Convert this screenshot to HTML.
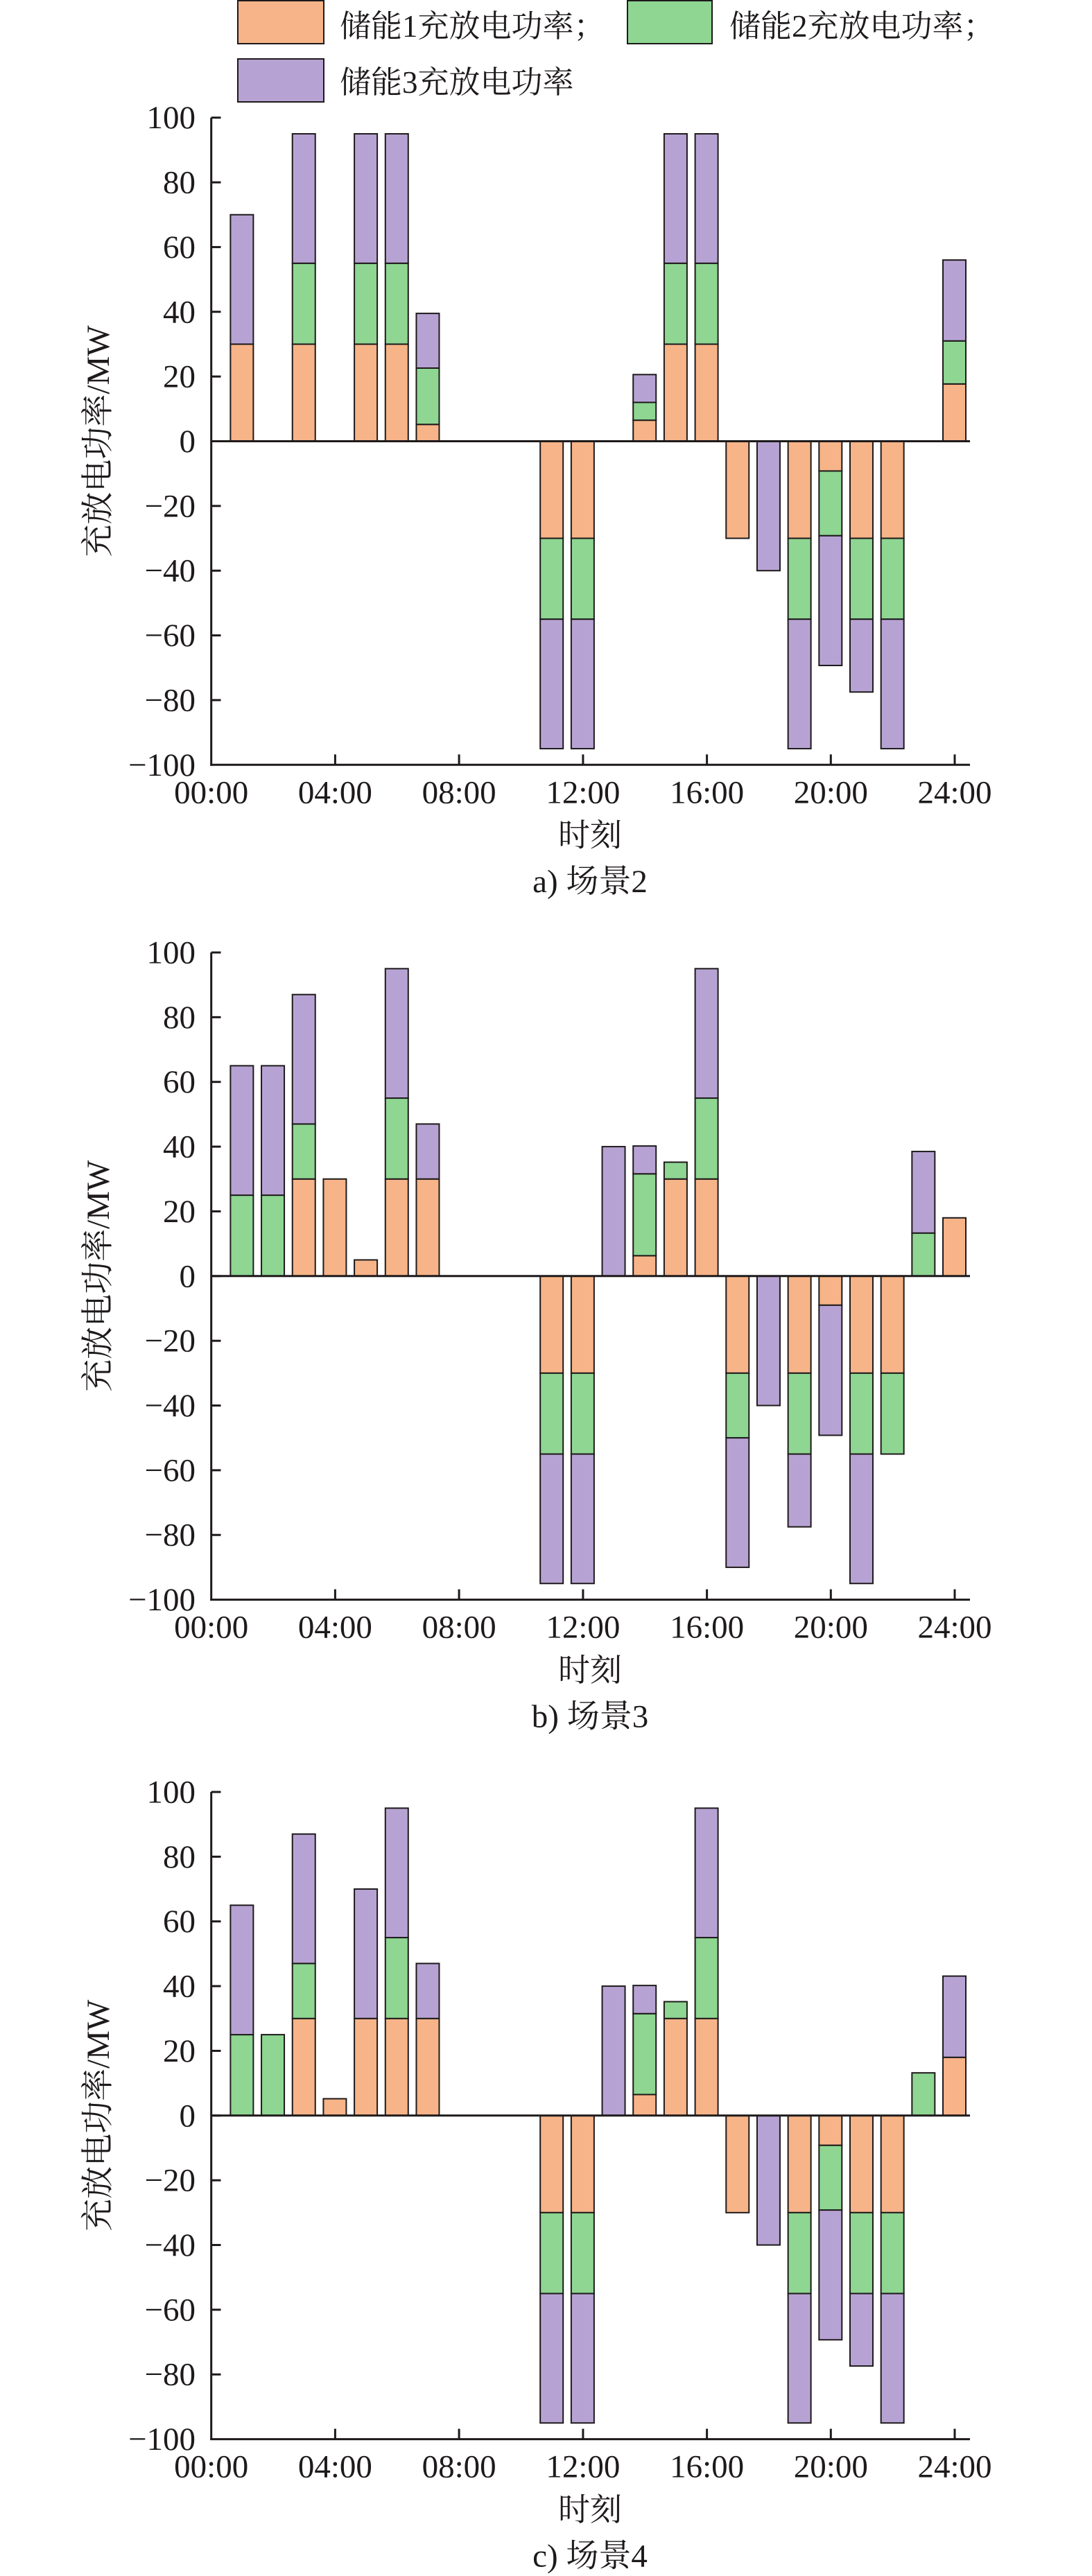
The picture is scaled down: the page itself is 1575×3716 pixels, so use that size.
<!DOCTYPE html>
<html>
<head>
<meta charset="utf-8">
<style>
html,body{margin:0;padding:0;background:#fff;}
svg{display:block;}
.o{fill:#F6B488;stroke:#1e1a1b;stroke-width:2;}
.g{fill:#8ED692;stroke:#1e1a1b;stroke-width:2;}
.p{fill:#B7A3D3;stroke:#1e1a1b;stroke-width:2;}
.ax{stroke:#1e1a1b;stroke-width:3;fill:none;}
.t{font-family:"Liberation Serif","Noto Serif CJK SC",serif;fill:#1e1a1b;}
.yl{font-size:47px;text-anchor:end;}
.xl{font-size:47px;text-anchor:middle;}
.cj{font-size:46px;text-anchor:middle;}
.cap{font-size:47px;text-anchor:middle;}
.lg{font-size:45px;}
</style>
</head>
<body>
<svg width="1575" height="3716" viewBox="0 0 1575 3716" xmlns="http://www.w3.org/2000/svg">
<rect width="1575" height="3716" fill="#fff"/>

<!-- Legend -->
<rect x="343" y="1" width="124" height="62" class="o"/>
<text x="490" y="53" class="t lg">储能1充放电功率；</text>
<rect x="905" y="1" width="122" height="62" class="g"/>
<text x="1052" y="53" class="t lg">储能2充放电功率；</text>
<rect x="343" y="85" width="124" height="62" class="p"/>
<text x="490" y="134" class="t lg">储能3充放电功率</text>

<defs>
<g id="axes">
  <line class="ax" x1="304.7" y1="0" x2="304.7" y2="935"/>
  <line class="ax" x1="303.2" y1="933.6" x2="1399" y2="933.6"/>
  <line class="ax" x1="304.7" y1="466.8" x2="1399" y2="466.8"/>
  <line class="ax" x1="304.7" y1="0" x2="318.5" y2="0"/>
  <line class="ax" x1="304.7" y1="93.36" x2="318.5" y2="93.36"/>
  <line class="ax" x1="304.7" y1="186.72" x2="318.5" y2="186.72"/>
  <line class="ax" x1="304.7" y1="280.08" x2="318.5" y2="280.08"/>
  <line class="ax" x1="304.7" y1="373.44" x2="318.5" y2="373.44"/>
  <line class="ax" x1="304.7" y1="466.8" x2="318.5" y2="466.8"/>
  <line class="ax" x1="304.7" y1="560.16" x2="318.5" y2="560.16"/>
  <line class="ax" x1="304.7" y1="653.52" x2="318.5" y2="653.52"/>
  <line class="ax" x1="304.7" y1="746.88" x2="318.5" y2="746.88"/>
  <line class="ax" x1="304.7" y1="840.24" x2="318.5" y2="840.24"/>
  <line class="ax" x1="483.4" y1="918.6" x2="483.4" y2="933.6"/>
  <line class="ax" x1="662.1" y1="918.6" x2="662.1" y2="933.6"/>
  <line class="ax" x1="840.9" y1="918.6" x2="840.9" y2="933.6"/>
  <line class="ax" x1="1019.6" y1="918.6" x2="1019.6" y2="933.6"/>
  <line class="ax" x1="1198.3" y1="918.6" x2="1198.3" y2="933.6"/>
  <line class="ax" x1="1377" y1="918.6" x2="1377" y2="933.6"/>
</g>
</defs>

<!-- ============ Chart a ============ -->
<g transform="translate(0,169.7)">
  <!-- h1 -->
  <rect class="o" x="332.38" y="326.76" width="33" height="140.04"/>
  <rect class="p" x="332.38" y="140.04" width="33" height="186.72"/>
  <!-- h3 -->
  <rect class="o" x="421.74" y="326.76" width="33" height="140.04"/>
  <rect class="g" x="421.74" y="210.06" width="33" height="116.7"/>
  <rect class="p" x="421.74" y="23.34" width="33" height="186.72"/>
  <!-- h5 -->
  <rect class="o" x="511.10" y="326.76" width="33" height="140.04"/>
  <rect class="g" x="511.10" y="210.06" width="33" height="116.7"/>
  <rect class="p" x="511.10" y="23.34" width="33" height="186.72"/>
  <!-- h6 -->
  <rect class="o" x="555.78" y="326.76" width="33" height="140.04"/>
  <rect class="g" x="555.78" y="210.06" width="33" height="116.7"/>
  <rect class="p" x="555.78" y="23.34" width="33" height="186.72"/>
  <!-- h7 -->
  <rect class="o" x="600.46" y="442.53" width="33" height="24.27"/>
  <rect class="g" x="600.46" y="361.30" width="33" height="81.23"/>
  <rect class="p" x="600.46" y="282.41" width="33" height="78.89"/>
  <!-- h11 -->
  <rect class="o" x="779.18" y="466.8" width="33" height="140.04"/>
  <rect class="g" x="779.18" y="606.84" width="33" height="116.7"/>
  <rect class="p" x="779.18" y="723.54" width="33" height="186.72"/>
  <!-- h12 -->
  <rect class="o" x="823.86" y="466.8" width="33" height="140.04"/>
  <rect class="g" x="823.86" y="606.84" width="33" height="116.7"/>
  <rect class="p" x="823.86" y="723.54" width="33" height="186.72"/>
  <!-- h14 -->
  <rect class="o" x="913.22" y="436.46" width="33" height="30.34"/>
  <rect class="g" x="913.22" y="410.78" width="33" height="25.68"/>
  <rect class="p" x="913.22" y="370.64" width="33" height="40.14"/>
  <!-- h15 -->
  <rect class="o" x="957.90" y="326.76" width="33" height="140.04"/>
  <rect class="g" x="957.90" y="210.06" width="33" height="116.7"/>
  <rect class="p" x="957.90" y="23.34" width="33" height="186.72"/>
  <!-- h16 -->
  <rect class="o" x="1002.58" y="326.76" width="33" height="140.04"/>
  <rect class="g" x="1002.58" y="210.06" width="33" height="116.7"/>
  <rect class="p" x="1002.58" y="23.34" width="33" height="186.72"/>
  <!-- h17 -->
  <rect class="o" x="1047.26" y="466.8" width="33" height="140.04"/>
  <!-- h18 -->
  <rect class="p" x="1091.94" y="466.8" width="33" height="186.72"/>
  <!-- h19 -->
  <rect class="o" x="1136.62" y="466.8" width="33" height="140.04"/>
  <rect class="g" x="1136.62" y="606.84" width="33" height="116.7"/>
  <rect class="p" x="1136.62" y="723.54" width="33" height="186.72"/>
  <!-- h20 -->
  <rect class="o" x="1181.30" y="466.8" width="33" height="42.95"/>
  <rect class="g" x="1181.30" y="509.75" width="33" height="93.36"/>
  <rect class="p" x="1181.30" y="603.11" width="33" height="187.18"/>
  <!-- h21 -->
  <rect class="o" x="1225.98" y="466.8" width="33" height="140.04"/>
  <rect class="g" x="1225.98" y="606.84" width="33" height="116.7"/>
  <rect class="p" x="1225.98" y="723.54" width="33" height="105.03"/>
  <!-- h22 -->
  <rect class="o" x="1270.66" y="466.8" width="33" height="140.04"/>
  <rect class="g" x="1270.66" y="606.84" width="33" height="116.7"/>
  <rect class="p" x="1270.66" y="723.54" width="33" height="186.72"/>
  <!-- h24 -->
  <rect class="o" x="1360.02" y="384.18" width="33" height="82.62"/>
  <rect class="g" x="1360.02" y="322.09" width="33" height="62.09"/>
  <rect class="p" x="1360.02" y="205.39" width="33" height="116.7"/>

  <use href="#axes"/>
  <g class="t yl">
    <text x="282" y="15.5">100</text>
    <text x="282" y="108.86">80</text>
    <text x="282" y="202.22">60</text>
    <text x="282" y="295.58">40</text>
    <text x="282" y="388.94">20</text>
    <text x="282" y="482.3">0</text>
    <text x="282" y="575.66">−20</text>
    <text x="282" y="669.02">−40</text>
    <text x="282" y="762.38">−60</text>
    <text x="282" y="855.74">−80</text>
    <text x="282" y="949.1">−100</text>
  </g>
  <g class="t xl">
    <text x="304.7" y="988.6">00:00</text>
    <text x="483.4" y="988.6">04:00</text>
    <text x="662.1" y="988.6">08:00</text>
    <text x="840.9" y="988.6">12:00</text>
    <text x="1019.6" y="988.6">16:00</text>
    <text x="1198.3" y="988.6">20:00</text>
    <text x="1377" y="988.6">24:00</text>
  </g>
  <text class="t cj" x="851" y="1050.8">时刻</text>
  <text class="t cap" x="851" y="1117.3">a) 场景2</text>
  <text class="t cap" transform="translate(157,466.8) rotate(-90)" x="0" y="0">充放电功率/MW</text>
</g>

<!-- ============ Chart b ============ -->
<g transform="translate(0,1374)">
  <!-- h1 -->
  <rect class="g" x="332.38" y="350.1" width="33" height="116.7"/>
  <rect class="p" x="332.38" y="163.38" width="33" height="186.72"/>
  <!-- h2 -->
  <rect class="g" x="377.06" y="350.1" width="33" height="116.7"/>
  <rect class="p" x="377.06" y="163.38" width="33" height="186.72"/>
  <!-- h3 -->
  <rect class="o" x="421.74" y="326.76" width="33" height="140.04"/>
  <rect class="g" x="421.74" y="247.40" width="33" height="79.36"/>
  <rect class="p" x="421.74" y="60.68" width="33" height="186.72"/>
  <!-- h4 -->
  <rect class="o" x="466.42" y="326.76" width="33" height="140.04"/>
  <!-- h5 -->
  <rect class="o" x="511.10" y="443.46" width="33" height="23.34"/>
  <!-- h6 -->
  <rect class="o" x="555.78" y="326.76" width="33" height="140.04"/>
  <rect class="g" x="555.78" y="210.06" width="33" height="116.7"/>
  <rect class="p" x="555.78" y="23.34" width="33" height="186.72"/>
  <!-- h7 -->
  <rect class="o" x="600.46" y="326.76" width="33" height="140.04"/>
  <rect class="p" x="600.46" y="247.40" width="33" height="79.36"/>
  <!-- h11 -->
  <rect class="o" x="779.18" y="466.8" width="33" height="140.04"/>
  <rect class="g" x="779.18" y="606.84" width="33" height="116.7"/>
  <rect class="p" x="779.18" y="723.54" width="33" height="186.72"/>
  <!-- h12 -->
  <rect class="o" x="823.86" y="466.8" width="33" height="140.04"/>
  <rect class="g" x="823.86" y="606.84" width="33" height="116.7"/>
  <rect class="p" x="823.86" y="723.54" width="33" height="186.72"/>
  <!-- h13 -->
  <rect class="p" x="868.54" y="280.08" width="33" height="186.72"/>
  <!-- h14 -->
  <rect class="o" x="913.22" y="437.39" width="33" height="29.41"/>
  <rect class="g" x="913.22" y="319.29" width="33" height="118.1"/>
  <rect class="p" x="913.22" y="279.15" width="33" height="40.14"/>
  <!-- h15 -->
  <rect class="o" x="957.90" y="326.76" width="33" height="140.04"/>
  <rect class="g" x="957.90" y="302.49" width="33" height="24.27"/>
  <!-- h16 -->
  <rect class="o" x="1002.58" y="326.76" width="33" height="140.04"/>
  <rect class="g" x="1002.58" y="210.06" width="33" height="116.7"/>
  <rect class="p" x="1002.58" y="23.34" width="33" height="186.72"/>
  <!-- h17 -->
  <rect class="o" x="1047.26" y="466.8" width="33" height="140.04"/>
  <rect class="g" x="1047.26" y="606.84" width="33" height="93.36"/>
  <rect class="p" x="1047.26" y="700.2" width="33" height="186.72"/>
  <!-- h18 -->
  <rect class="p" x="1091.94" y="466.8" width="33" height="186.72"/>
  <!-- h19 -->
  <rect class="o" x="1136.62" y="466.8" width="33" height="140.04"/>
  <rect class="g" x="1136.62" y="606.84" width="33" height="116.7"/>
  <rect class="p" x="1136.62" y="723.54" width="33" height="105.03"/>
  <!-- h20 -->
  <rect class="o" x="1181.30" y="466.8" width="33" height="42.01"/>
  <rect class="p" x="1181.30" y="508.81" width="33" height="187.66"/>
  <!-- h21 -->
  <rect class="o" x="1225.98" y="466.8" width="33" height="140.04"/>
  <rect class="g" x="1225.98" y="606.84" width="33" height="116.7"/>
  <rect class="p" x="1225.98" y="723.54" width="33" height="186.72"/>
  <!-- h22 -->
  <rect class="o" x="1270.66" y="466.8" width="33" height="140.04"/>
  <rect class="g" x="1270.66" y="606.84" width="33" height="116.7"/>
  <!-- h23 -->
  <rect class="g" x="1315.34" y="404.72" width="33" height="62.08"/>
  <rect class="p" x="1315.34" y="287.08" width="33" height="117.64"/>
  <!-- h24 -->
  <rect class="o" x="1360.02" y="382.78" width="33" height="84.02"/>

  <use href="#axes"/>
  <g class="t yl">
    <text x="282" y="15.5">100</text>
    <text x="282" y="108.86">80</text>
    <text x="282" y="202.22">60</text>
    <text x="282" y="295.58">40</text>
    <text x="282" y="388.94">20</text>
    <text x="282" y="482.3">0</text>
    <text x="282" y="575.66">−20</text>
    <text x="282" y="669.02">−40</text>
    <text x="282" y="762.38">−60</text>
    <text x="282" y="855.74">−80</text>
    <text x="282" y="949.1">−100</text>
  </g>
  <g class="t xl">
    <text x="304.7" y="988.6">00:00</text>
    <text x="483.4" y="988.6">04:00</text>
    <text x="662.1" y="988.6">08:00</text>
    <text x="840.9" y="988.6">12:00</text>
    <text x="1019.6" y="988.6">16:00</text>
    <text x="1198.3" y="988.6">20:00</text>
    <text x="1377" y="988.6">24:00</text>
  </g>
  <text class="t cj" x="851" y="1050.8">时刻</text>
  <text class="t cap" x="851" y="1117.3">b) 场景3</text>
  <text class="t cap" transform="translate(157,466.8) rotate(-90)" x="0" y="0">充放电功率/MW</text>
</g>

<!-- ============ Chart c ============ -->
<g transform="translate(0,2585)">
  <!-- h1 -->
  <rect class="g" x="332.38" y="350.1" width="33" height="116.7"/>
  <rect class="p" x="332.38" y="163.38" width="33" height="186.72"/>
  <!-- h2 -->
  <rect class="g" x="377.06" y="350.1" width="33" height="116.7"/>
  <!-- h3 -->
  <rect class="o" x="421.74" y="326.76" width="33" height="140.04"/>
  <rect class="g" x="421.74" y="247.40" width="33" height="79.36"/>
  <rect class="p" x="421.74" y="60.68" width="33" height="186.72"/>
  <!-- h4 -->
  <rect class="o" x="466.42" y="442.53" width="33" height="24.27"/>
  <!-- h5 -->
  <rect class="o" x="511.10" y="326.76" width="33" height="140.04"/>
  <rect class="p" x="511.10" y="140.04" width="33" height="186.72"/>
  <!-- h6 -->
  <rect class="o" x="555.78" y="326.76" width="33" height="140.04"/>
  <rect class="g" x="555.78" y="210.06" width="33" height="116.7"/>
  <rect class="p" x="555.78" y="23.34" width="33" height="186.72"/>
  <!-- h7 -->
  <rect class="o" x="600.46" y="326.76" width="33" height="140.04"/>
  <rect class="p" x="600.46" y="247.40" width="33" height="79.36"/>
  <!-- h11 -->
  <rect class="o" x="779.18" y="466.8" width="33" height="140.04"/>
  <rect class="g" x="779.18" y="606.84" width="33" height="116.7"/>
  <rect class="p" x="779.18" y="723.54" width="33" height="186.72"/>
  <!-- h12 -->
  <rect class="o" x="823.86" y="466.8" width="33" height="140.04"/>
  <rect class="g" x="823.86" y="606.84" width="33" height="116.7"/>
  <rect class="p" x="823.86" y="723.54" width="33" height="186.72"/>
  <!-- h13 -->
  <rect class="p" x="868.54" y="280.08" width="33" height="186.72"/>
  <!-- h14 -->
  <rect class="o" x="913.22" y="436.46" width="33" height="30.34"/>
  <rect class="g" x="913.22" y="319.76" width="33" height="116.7"/>
  <rect class="p" x="913.22" y="279.15" width="33" height="40.61"/>
  <!-- h15 -->
  <rect class="o" x="957.90" y="326.76" width="33" height="140.04"/>
  <rect class="g" x="957.90" y="302.49" width="33" height="24.27"/>
  <!-- h16 -->
  <rect class="o" x="1002.58" y="326.76" width="33" height="140.04"/>
  <rect class="g" x="1002.58" y="210.06" width="33" height="116.7"/>
  <rect class="p" x="1002.58" y="23.34" width="33" height="186.72"/>
  <!-- h17 -->
  <rect class="o" x="1047.26" y="466.8" width="33" height="140.04"/>
  <!-- h18 -->
  <rect class="p" x="1091.94" y="466.8" width="33" height="186.72"/>
  <!-- h19 -->
  <rect class="o" x="1136.62" y="466.8" width="33" height="140.04"/>
  <rect class="g" x="1136.62" y="606.84" width="33" height="116.7"/>
  <rect class="p" x="1136.62" y="723.54" width="33" height="186.72"/>
  <!-- h20 -->
  <rect class="o" x="1181.30" y="466.8" width="33" height="42.95"/>
  <rect class="g" x="1181.30" y="509.75" width="33" height="93.36"/>
  <rect class="p" x="1181.30" y="603.11" width="33" height="187.18"/>
  <!-- h21 -->
  <rect class="o" x="1225.98" y="466.8" width="33" height="140.04"/>
  <rect class="g" x="1225.98" y="606.84" width="33" height="116.7"/>
  <rect class="p" x="1225.98" y="723.54" width="33" height="104.57"/>
  <!-- h22 -->
  <rect class="o" x="1270.66" y="466.8" width="33" height="140.04"/>
  <rect class="g" x="1270.66" y="606.84" width="33" height="116.7"/>
  <rect class="p" x="1270.66" y="723.54" width="33" height="186.72"/>
  <!-- h23 -->
  <rect class="g" x="1315.34" y="405.18" width="33" height="61.62"/>
  <!-- h24 -->
  <rect class="o" x="1360.02" y="382.78" width="33" height="84.02"/>
  <rect class="p" x="1360.02" y="265.61" width="33" height="117.17"/>

  <use href="#axes"/>
  <g class="t yl">
    <text x="282" y="15.5">100</text>
    <text x="282" y="108.86">80</text>
    <text x="282" y="202.22">60</text>
    <text x="282" y="295.58">40</text>
    <text x="282" y="388.94">20</text>
    <text x="282" y="482.3">0</text>
    <text x="282" y="575.66">−20</text>
    <text x="282" y="669.02">−40</text>
    <text x="282" y="762.38">−60</text>
    <text x="282" y="855.74">−80</text>
    <text x="282" y="949.1">−100</text>
  </g>
  <g class="t xl">
    <text x="304.7" y="988.6">00:00</text>
    <text x="483.4" y="988.6">04:00</text>
    <text x="662.1" y="988.6">08:00</text>
    <text x="840.9" y="988.6">12:00</text>
    <text x="1019.6" y="988.6">16:00</text>
    <text x="1198.3" y="988.6">20:00</text>
    <text x="1377" y="988.6">24:00</text>
  </g>
  <text class="t cj" x="851" y="1050.8">时刻</text>
  <text class="t cap" x="851" y="1117.3">c) 场景4</text>
  <text class="t cap" transform="translate(157,466.8) rotate(-90)" x="0" y="0">充放电功率/MW</text>
</g>
</svg>
</body>
</html>
